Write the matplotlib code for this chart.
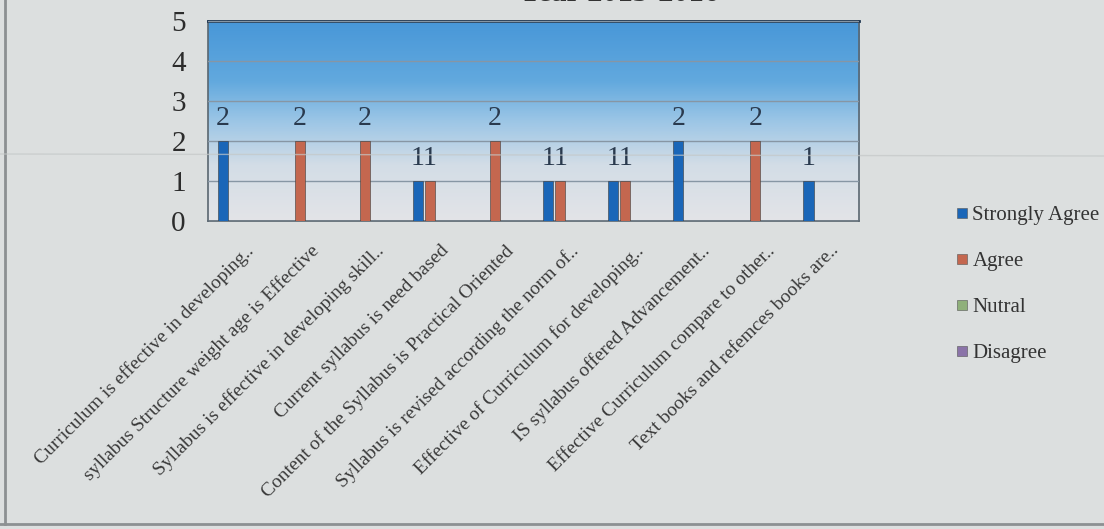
import numpy as np
import matplotlib
matplotlib.use("Agg")
import matplotlib.pyplot as plt
import matplotlib.transforms as mtransforms
from matplotlib.colors import LinearSegmentedColormap
from matplotlib.lines import Line2D

plt.rcParams['font.family'] = ['Liberation Serif', 'DejaVu Serif']

categories = [
    "Curriculum is effective in developing..",
    "syllabus Structure weight age is Effective",
    "Syllabus is effective in developing skill..",
    "Current syllabus is need based",
    "Content of the Syllabus is Practical Oriented",
    "Syllabus is revised according the norm of..",
    "Effective of Curriculum for developing..",
    "IS syllabus offered Advancement..",
    "Effective Curriculum compare to other..",
    "Text books and refemces books are..",
]
strongly_agree = [2, 0, 0, 1, 0, 1, 1, 2, 0, 1]
agree = [0, 2, 2, 1, 2, 1, 1, 0, 2, 0]
nutral = [0, 0, 0, 0, 0, 0, 0, 0, 0, 0]
disagree = [0, 0, 0, 0, 0, 0, 0, 0, 0, 0]
series_names = ["Strongly Agree", "Agree", "Nutral", "Disagree"]
series_colors = ["#1a66b8", "#c4674f", "#8fb07a", "#8a73a8"]
title = "Year 2015-2016"

bg = "#dcdfdf"
fig = plt.figure(figsize=(11.04, 5.29), dpi=100, facecolor=bg)
ax = fig.add_axes([0.1884, 0.5822, 0.5897, 0.378])

# gradient plot area
cmap = LinearSegmentedColormap.from_list(
    "bgfill", [(0, "#e3e4e8"), (0.28, "#d3dde6"), (0.5, "#9cc6e6"),
               (0.7, "#62a9de"), (1, "#4897d8")])
grad = np.linspace(0, 1, 256).reshape(-1, 1)
ax.imshow(grad, cmap=cmap, aspect="auto", extent=[-0.5, 9.5, 0, 5],
          origin="lower", zorder=0)

x = np.arange(len(categories))
slot = 0.184
bw = 0.155
all_series = [strongly_agree, agree, nutral, disagree]
for k, vals in enumerate(all_series):
    pos = x + (k - 1.5) * slot
    ax.bar(pos, vals, width=bw, color=series_colors[k],
           edgecolor="#3a3a3a", linewidth=0.4, zorder=3)
    for px, v in zip(pos, vals):
        if v > 0:
            ax.annotate(str(v), (px, v), xytext=(0, 16), textcoords="offset points",
                        ha="center", va="center", fontsize=20, color="#2a3a4e",
                        zorder=4)

ax.set_xlim(-0.5, 9.5)
ax.set_ylim(0, 5)
ax.set_yticks([0, 1, 2, 3, 4, 5])
ax.yaxis.grid(True, color="#8796a4", linewidth=1.0, zorder=1)
ax.set_axisbelow(False)
ax.tick_params(axis="y", length=0, pad=16, labelsize=21, labelcolor="#2c2c2c")
ax.tick_params(axis="x", length=0, pad=15)
ax.set_xticks(x)
ax.set_xticklabels(categories, rotation=45, ha="right", rotation_mode="anchor",
                   fontsize=14, color="#3a3a3a")
offset = mtransforms.ScaledTranslation(4 / 100, 0, fig.dpi_scale_trans)
for lab in ax.get_xticklabels():
    lab.set_transform(lab.get_transform() + offset)
for side in ["left", "bottom", "right"]:
    ax.spines[side].set_color("#5a6670")
    ax.spines[side].set_linewidth(1.2)
ax.spines["top"].set_color("#1e3550")
ax.spines["top"].set_linewidth(2)

fig.text(619 / 1104, 1 - 1 / 529, title, ha="center", va="baseline",
         fontsize=22, fontweight="bold", color="#333333")

handles = [Line2D([], [], linestyle="none", marker="s", markersize=6.5,
                  markerfacecolor=c, markeredgecolor="#555555", markeredgewidth=0.4)
           for c in series_colors]
fig.legend(handles, series_names, loc="upper left",
           bbox_to_anchor=(937 / 1104, 1 - 187 / 529), frameon=False,
           fontsize=15, labelspacing=1.27, handlelength=0.6, handletextpad=0.2,
           labelcolor="#333333")

# page border and fold
fig.add_artist(Line2D([5 / 1104, 5 / 1104], [0.01, 1], color="#8c9092", linewidth=2))
fig.add_artist(Line2D([0, 1], [5 / 529, 5 / 529], color="#8c9092", linewidth=2))
fig.add_artist(Line2D([0, 1], [1 - 154 / 529, 1 - 156 / 529], color="#c4c8c8",
                      linewidth=1, alpha=0.7))

fig.savefig("out.png", dpi=100, facecolor=bg)
